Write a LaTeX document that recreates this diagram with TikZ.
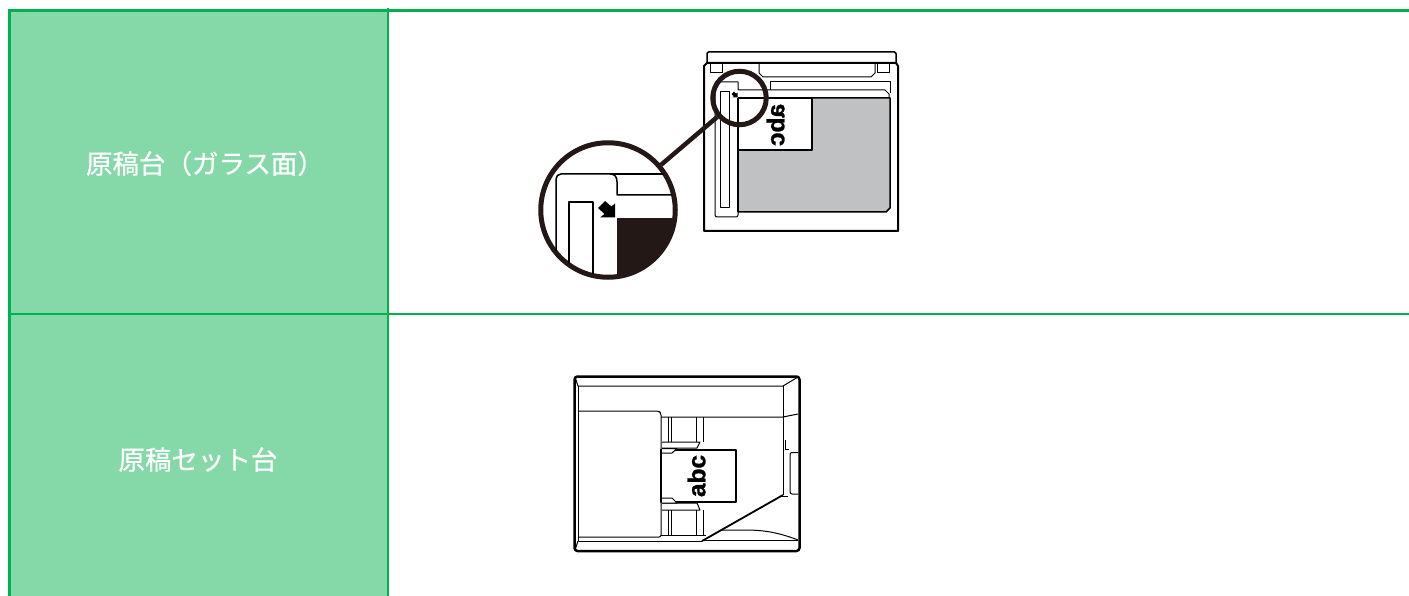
\documentclass[tikz,border=0pt]{standalone}
\usepackage{fontspec}
\setmainfont{Liberation Sans}[BoldFeatures={FakeBold=1.2}]
\newfontfamily\cjk{Noto Sans CJK JP}[FakeBold=0.8]
\usetikzlibrary{positioning,arrows.meta}
\definecolor{maingreen}{RGB}{0,177,79}
\definecolor{lightgreen}{RGB}{133,217,168}
\definecolor{glassgray}{RGB}{192,193,195}
\definecolor{inkblack}{RGB}{35,24,21}
\newcommand{\cornerarrow}{(0,0) -- (0,-14) -- (-3.5,-11) -- (-10,-16.5) -- (-17,-9.5) -- (-10.5,-3.5) -- (-15,0) -- cycle}

\begin{document}
\begin{tikzpicture}[
    x=1pt, y=-1pt,
    label/.style={
        text=white,
        font=\cjk\fontsize{26.5}{30}\selectfont,
        inner sep=0pt
    },
    rule/.style={
        draw=maingreen
    },
    part/.style={
        draw=black,
        line width=1pt,
        line join=round
    },
    heavy/.style={
        draw=black,
        line width=2pt,
        line join=round
    },
    paperlabel/.style={
        font=\bfseries\fontsize{24.5}{25}\selectfont,
        inner sep=0pt
    },
    lens/.style={
        circle,
        draw=inkblack,
        line width=5pt,
        inner sep=0pt
    }
]
\useasboundingbox (0,0) rectangle (1409,596);

% ============================================================
% Table
% ============================================================

\fill[lightgreen] (9,10) rectangle (388,596);
\draw[rule, line width=3pt] (9.5,596) -- (9.5,10.5) -- (1409,10.5);
\draw[rule, line width=2pt] (388,8) -- (388,596);
\draw[rule, line width=2pt] (9,313.5) -- (1409,313.5);

\node[label] (glasslabel) at (205,163.5) {原稿台（ガラス面）};
\node[label] (feederlabel) at (198,459.5) {原稿セット台};


% ============================================================
% Glass
% ============================================================

% lid and body
\draw[part, line width=1.5pt, rounded corners=1.5pt] (707,63) -- (707,52) -- (896,52) -- (896,63);
\draw[heavy] (704,231) -- (704,66) -- (707,63) -- (896,63) -- (898,66) -- (898,231) -- cycle;
\draw[part] (710,63) -- (710,73) -- (722,73) -- (722,63);
\draw[part] (877,63) -- (877,73) -- (889,73) -- (889,63);
\draw[part] (759,63) -- (759,73) -- (763,77) -- (871,77) -- (875,73) -- (875,63);

% bed
\draw[part, rounded corners=2pt] (738,82) -- (715,82) -- (715,217) -- (738,217) -- (738,208);
\draw[part] (720,92) rectangle (729,208);
\draw[part] (770,90) -- (770,82) -- (890,82) -- (890,93);
\draw[part] (738,82) -- (738,90) -- (885,90) -- (889,94) -- (889,98);

% glass and paper
\draw[part, line width=1.5pt, fill=glassgray] (738,98) -- (890,98) -- (890,208) -- (886,212) -- (738,212) -- cycle;
\fill[white] (738,98) rectangle (812,150);
\draw[heavy] (738,98) -- (812,98) -- (812,150) -- (738,150);
\draw[heavy] (738,98) -- (738,212);
\node[paperlabel, xscale=-1, rotate=-90] (glasspaper) at (775.5,125) {abc};
\fill[black, shift={(737.5,97.5)}, scale=0.35] \cornerarrow;

% inset
\node[lens, minimum size=134.5pt] (inset) at (608,210) {};
\begin{scope}
    \clip (608,210) circle (66pt);
    \draw[part, line width=1.5pt, rounded corners=5pt] (556,290) -- (556,174) -- (610,174);
    \draw[part, line width=1.5pt] (610,174) -- (680,174);
    \draw[part, line width=1.5pt] (610,174) .. controls (615,174) and (617,177) .. (617,182) -- (617,195) -- (680,195);
    \draw[part, line width=1.5pt] (569,290) -- (569,202) -- (593,202) -- (593,290);
    \fill[inkblack] (617,218) rectangle (680,290);
    \fill[black, shift={(615,217.5)}] \cornerarrow;
\end{scope}

\node[lens, minimum size=53.5pt] (zoomring) at (739.5,98) {};
\draw[inkblack, line width=4.5pt] (zoomring) -- (inset);


% ============================================================
% Feeder
% ============================================================

\draw[heavy, line width=2.5pt, rounded corners=3pt] (574.5,376.5) rectangle (799.5,551);
\draw[part] (575,377) -- (578,386) -- (783,386) -- (798,377);
\draw[part] (578,386) -- (578,541) -- (702,541);
\draw[part] (575,550) -- (578,541);
\draw[part] (783,386) -- (783,495);

% tray
\draw[part, rounded corners=2pt] (578,411) -- (659,411) -- (661,413) -- (661,537) -- (578,537);
\draw[part] (661,417) -- (783,417) -- (798,414);
\draw[part] (668,417) -- (668,442) (671.5,417) -- (671.5,442);
\draw[part] (696,417) -- (696,442) (703,417) -- (703,442);
\draw[part] (668,510) -- (668,535) (671.5,510) -- (671.5,535);
\draw[part] (696,510) -- (696,535) (703,510) -- (703,535);
\draw[part] (661,535) -- (706,535);

% paper and guides
\draw[part] (662,442) -- (700,442) -- (697,448) -- (662,448);
\draw[part] (662,510) -- (700,510) -- (697,503) -- (662,503);
\draw[part, line width=1.5pt, fill=white] (661,449.5) rectangle (735.5,502);
\draw[heavy] (661,449.5) -- (735.5,449.5) -- (735.5,502) -- (661,502);
\draw[part, fill=white] (662,448.5) -- (677,448.5) -- (672,453) -- (662,453);
\draw[part, fill=white] (662,503) -- (677,503) -- (672,498) -- (662,498);
\node[paperlabel, rotate=90] (feederpaper) at (696.5,476) {abc};

% output side
\draw[part, line width=1.8pt] (702,541) -- (783,495);
\draw[part] (781.5,496.5) -- (788,496.5);
\draw[part] (702,540) -- (798,540);
\draw[part] (721.5,530) -- (745,530) .. controls (765,530) and (780,533) .. (798,540);
\draw[part, rounded corners=2pt] (798,452.5) -- (790,452.5) -- (790,494) -- (798,494);
\draw[part, line width=0.5pt] (785,440) -- (785,449) -- (789,449);
\end{tikzpicture}
\end{document}
